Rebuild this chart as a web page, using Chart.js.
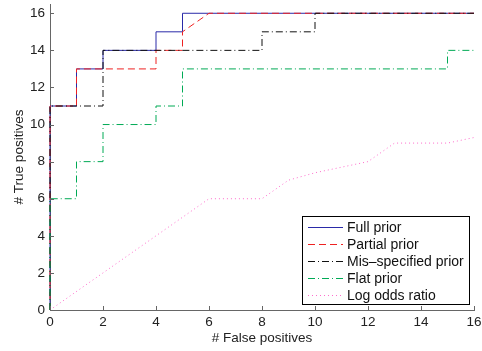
<!DOCTYPE html>
<html>
<head>
<meta charset="utf-8">
<script src="https://cdn.jsdelivr.net/npm/chart.js@4/dist/chart.umd.min.js"></script>
<style>
  html, body { margin: 0; padding: 0; background: #fff; }
  #wrap { width: 482px; height: 351px; }
</style>
</head>
<body>
<div id="wrap"><canvas id="roc"></canvas></div>
<script>
// values (corner points of each curve)
var fullX = [0, 0, 1, 1, 2, 2, 4, 4, 5, 5, 16];
var fullY = [0, 11, 11, 13, 13, 14, 14, 15, 15, 16, 16];
var partialX = [0, 0, 1, 1, 4, 4, 5, 5, 6, 16];
var partialY = [0, 11, 11, 13, 13, 14, 14, 15, 16, 16];
var misX = [0, 0, 2, 2, 8, 8, 10, 10, 16];
var misY = [0, 11, 11, 14, 14, 15, 15, 16, 16];
var flatX = [0, 0, 1, 1, 2, 2, 4, 4, 5, 5, 15, 15, 16];
var flatY = [0, 6, 6, 8, 8, 10, 10, 11, 11, 13, 13, 14, 14];
var logX = [0, 6, 8, 9, 10, 11, 12, 13, 15, 16];
var logY = [0, 6, 6, 7, 7.4, 7.7, 8, 9, 9, 9.3];
var seriesNames = ['Full prior', 'Partial prior', 'Mis\u2013specified prior', 'Flat prior', 'Log odds ratio'];
var xTicks = [0, 2, 4, 6, 8, 10, 12, 14, 16];
var yTicks = [0, 2, 4, 6, 8, 10, 12, 14, 16];

function pts(xs, ys){
    return xs.map(function(x, i){ return {x: x, y: ys[i]}; });
}

var FONT = '"Liberation Sans", Arial, sans-serif';
var styles = [
    {color: '#2a2aa8', dash: []},
    {color: '#ee2222', dash: [7, 4]},
    {color: '#111111', dash: [7, 3, 1, 3]},
    {color: '#00aa55', dash: [7, 3, 1, 3]},
    {color: '#ff6ccc', dash: [1, 3]}
];
var allData = [pts(fullX, fullY), pts(partialX, partialY), pts(misX, misY), pts(flatX, flatY), pts(logX, logY)];

var datasets = allData.map(function(d, i){
    return {
        label: seriesNames[i],
        data: d,
        borderColor: styles[i].color,
        borderDash: styles[i].dash,
        borderWidth: 1,
        pointRadius: 0,
        fill: false,
        tension: 0,
        clip: 4,
        order: 4 - i
    };
});

// inward ticks and the boxed legend, like the original
var decor = {
    id: 'decor',
    afterDatasetsDraw: function(chart){
        var c = chart.ctx, xs = chart.scales.x, ys = chart.scales.y, a = chart.chartArea;
        c.save();
        c.strokeStyle = '#666';
        c.lineWidth = 1;
        c.beginPath();
        xTicks.forEach(function(v){
            var px = Math.round(xs.getPixelForValue(v)) + 0.5;
            c.moveTo(px, a.bottom); c.lineTo(px, a.bottom - 4);
        });
        yTicks.forEach(function(v){
            var py = Math.round(ys.getPixelForValue(v)) + 0.5;
            c.moveTo(a.left, py); c.lineTo(a.left + 4, py);
        });
        c.stroke();

        // legend
        var bx = 302.5, by = 216.5, bw = 167, bh = 88;
        c.fillStyle = '#fff';
        c.fillRect(bx, by, bw, bh);
        c.strokeStyle = '#000';
        c.setLineDash([]);
        c.strokeRect(bx, by, bw, bh);
        c.font = '14px ' + FONT;
        c.textBaseline = 'middle';
        c.fillStyle = '#111';
        for (var i = 0; i < seriesNames.length; i++){
            var ry = Math.round(by + 10 + i * 17.1) + 0.5;
            c.strokeStyle = styles[i].color;
            c.setLineDash(styles[i].dash);
            c.beginPath();
            c.moveTo(308, ry); c.lineTo(343, ry);
            c.stroke();
            c.fillText(seriesNames[i], 347, ry + 0.5);
        }
        c.restore();
    }
};

var ctx = document.getElementById('roc').getContext('2d');
var myChart = new Chart(ctx, {
    type: 'line',
    data: { datasets: datasets },
    options: {
        responsive: true,
        maintainAspectRatio: false,
        animation: false,
        layout: { padding: { top: 4, right: 8, left: 0, bottom: 0 } },
        scales: {
            x: {
                type: 'linear',
                min: 0,
                max: 16,
                afterBuildTicks: function(scale){ scale.ticks = xTicks.map(function(v){ return {value: v}; }); },
                afterFit: function(scale){
                    scale.height = 41;
                    scale.paddingLeft = 0;
                    scale.paddingRight = 0;
                },
                grid: { display: false, drawTicks: false, tickLength: 0 },
                border: { display: true, color: '#666', width: 1 },
                ticks: {
                    color: '#222',
                    padding: 4,
                    maxRotation: 0,
                    font: { family: FONT, size: 13.5 }
                },
                title: {
                    display: true,
                    text: '# False positives',
                    color: '#222',
                    padding: { top: 0, bottom: 5 },
                    font: { family: FONT, size: 13.5 }
                }
            },
            y: {
                type: 'linear',
                min: 0,
                max: 16.5,
                afterBuildTicks: function(scale){ scale.ticks = yTicks.map(function(v){ return {value: v}; }); },
                afterFit: function(scale){
                    scale.width = 50;
                    scale.paddingTop = 0;
                    scale.paddingBottom = 0;
                },
                grid: { display: false, drawTicks: false, tickLength: 0 },
                border: { display: true, color: '#666', width: 1 },
                ticks: {
                    color: '#222',
                    padding: 5,
                    font: { family: FONT, size: 13.5 }
                },
                title: {
                    display: true,
                    text: '# True positives',
                    color: '#222',
                    padding: { top: 11, bottom: 0 },
                    font: { family: FONT, size: 13.5 }
                }
            }
        },
        plugins: {
            legend: { display: false },
            tooltip: { enabled: false }
        }
    },
    plugins: [decor]
});
</script>
</body>
</html>
